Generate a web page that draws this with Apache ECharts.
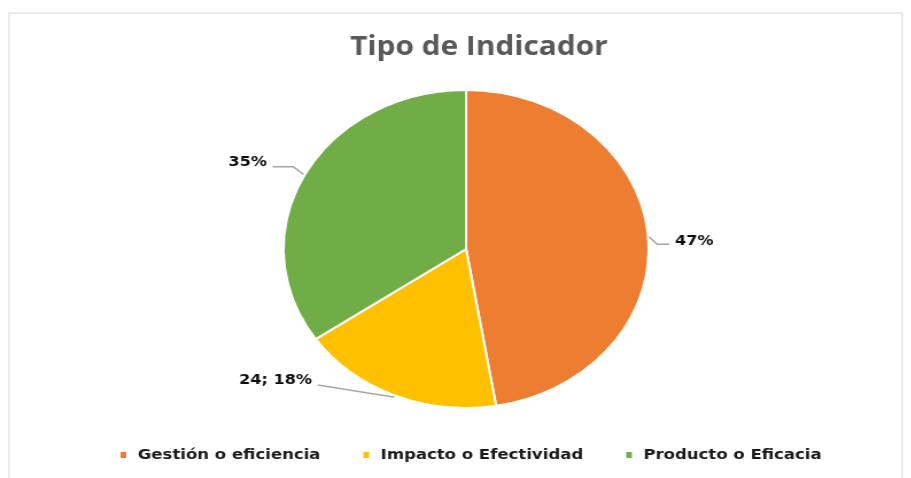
<!DOCTYPE html>
<html>
<head>
<meta charset="utf-8">
<script src="https://cdn.jsdelivr.net/npm/echarts@6/dist/echarts.min.js"></script>
<style>
  html, body { margin: 0; padding: 0; background: #ffffff; overflow: hidden; }
  #chart { position: absolute; left: 0; top: 0; width: 794px; height: 478px; transform: scaleX(1.148); transform-origin: 0 0; }
</style>
</head>
<body>
<div id="chart"></div>
<script>
// ---- data ----
const chartTitle = 'Tipo de Indicador';
const categories = ['Gestión o eficiencia', 'Impacto o Efectividad', 'Producto o Eficacia'];
const values = [63, 24, 46];
const showValueInLabel = [false, true, false];

// ---- styles ----
const colors = ['#ED7D31', '#FFC000', '#70AD47'];
const lineLengths = [[8, 10.5], [4, 65.5], [11, 18]];
const labelShift = [6, -19, -8];
const linePointShift = [[0, 9, 9], [0, -2, -14], [0, -3, -3]];

const chart = echarts.init(document.getElementById('chart'), null, { renderer: 'canvas' });

const pieData = categories.map((name, i) => ({
  name: name,
  value: values[i],
  itemStyle: { color: colors[i] },
  labelLine: { length: lineLengths[i][0], length2: lineLengths[i][1] }
}));

chart.setOption({
  animation: false,
  backgroundColor: '#ffffff',
  graphic: [{
    type: 'rect',
    silent: true,
    shape: { x: 7.8, y: 13, width: 778, height: 520 },
    style: { fill: 'none', stroke: '#d9d9d9', lineWidth: 1 }
  }],
  title: {
    text: chartTitle,
    left: 300,
    top: 30,
    textStyle: { fontFamily: 'Open Sans', fontWeight: 'bold', fontSize: 26, color: '#595959' }
  },
  legend: {
    data: categories,
    left: 98,
    top: 443,
    icon: 'rect',
    itemWidth: 7,
    itemHeight: 8,
    itemGap: 35.5,
    textStyle: { fontFamily: 'DejaVu Sans', fontWeight: 'bold', fontSize: 14.4, color: '#1a1a1a', padding: [0, 0, 0, 4] }
  },
  series: [{
    type: 'pie',
    center: [406, 249],
    radius: 159,
    startAngle: 90,
    clockwise: true,
    data: pieData,
    itemStyle: { borderColor: '#ffffff', borderWidth: 2 },
    label: {
      show: true,
      position: 'outside',
      fontFamily: 'DejaVu Sans',
      fontWeight: 'bold',
      fontSize: 14,
      color: '#0d0d0d',
      distanceToLabelLine: 5,
      formatter: function (p) {
        return (showValueInLabel[p.dataIndex] ? p.value + '; ' : '') + Math.round(p.percent) + '%';
      }
    },
    labelLine: { show: true, lineStyle: { color: '#a6a6a6', width: 1.5 } },
    labelLayout: function (p) {
      const i = p.dataIndex;
      const out = { dy: labelShift[i] };
      if (p.labelLinePoints) {
        out.labelLinePoints = p.labelLinePoints.map((pt, k) => [pt[0], pt[1] + linePointShift[i][k]]);
      }
      return out;
    },
    emphasis: { disabled: true }
  }]
});
</script>
</body>
</html>
